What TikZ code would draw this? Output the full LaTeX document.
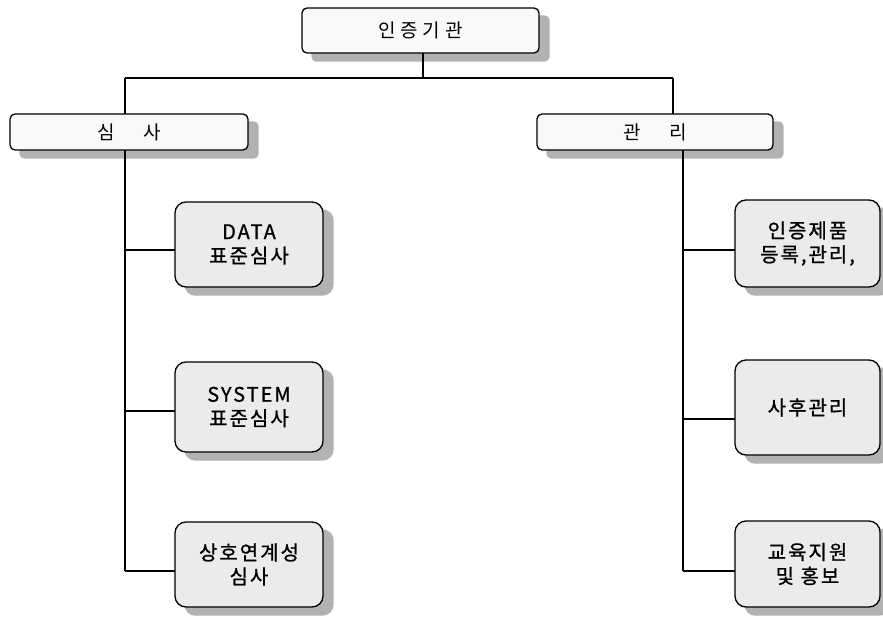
\documentclass[tikz,border=0pt]{standalone}
\usepackage{fontspec}
\setmainfont{Noto Sans CJK KR}
\newfontfamily\krt[LetterSpace=25]{Noto Sans CJK KR}
\newfontfamily\krc[LetterSpace=10,FakeBold=1]{Noto Sans CJK KR}
\usetikzlibrary{backgrounds}
\tikzset{
  conn/.style={line width=1.2pt, black},
  shadowfill/.style={fill=gray!60},
  topbox/.style={draw=black, line width=1.3pt, rounded corners=5pt, fill=gray!5, align=center, font=\krt\fontsize{19}{23}\selectfont},
  childbox/.style={draw=black, line width=1.3pt, rounded corners=11pt, fill=gray!16, align=center, font=\krc\fontsize{20}{24}\selectfont, minimum width=148pt},
}
\begin{document}
\begin{tikzpicture}[x=1pt,y=-1pt]
\useasboundingbox (0,0) rectangle (883,623);
% junction coordinates
\coordinate (j) at (423,78);
\coordinate (lt) at (125,78);
\coordinate (rt) at (673,78);
\coordinate (rb) at (683,150);
\coordinate (l1) at (125,250);
\coordinate (l2) at (125,411);
\coordinate (l3) at (125,571);
\coordinate (r1) at (683,250);
\coordinate (r2) at (683,419);
\coordinate (r3) at (683,571);
% connectors
\draw[conn] (423,53) -- (j);
\draw[conn] (lt) -- (rt);
\draw[conn] (lt) -- (l3);
\draw[conn] (rt) -- (673,114);
\draw[conn] (rb) -- (r3);
\draw[conn] (l1) -- (175,250);
\draw[conn] (l2) -- (175,411);
\draw[conn] (l3) -- (175,571);
\draw[conn] (r1) -- (735,250);
\draw[conn] (r2) -- (735,419);
\draw[conn] (r3) -- (735,571);
% boxes
\node[topbox, minimum width=237pt, minimum height=45pt] (top) at (420.5,30.5) {인증기관};
\node[topbox, minimum width=238pt, minimum height=36pt] (simsa) at (129,132) {심\hspace{1.5em}사};
\node[topbox, minimum width=236pt, minimum height=36pt] (gwanri) at (655,132) {관\hspace{1.5em}리};
\node[childbox, minimum height=85pt] (L1) at (249,244.5) {DATA\\표준심사};
\node[childbox, minimum height=90pt] (L2) at (249,407) {SYSTEM\\표준심사};
\node[childbox, minimum height=85pt] (L3) at (249,564.5) {상호연계성\\심사};
\node[childbox, minimum width=145pt, minimum height=87pt] (R1) at (807.5,243.5) {인증제품\\등록,관리,};
\node[childbox, minimum width=145pt, minimum height=95pt] (R2) at (807.5,407.5) {사후관리};
\node[childbox, minimum width=145pt, minimum height=86pt] (R3) at (807.5,564) {교육지원\\및 홍보};
% shadows
\begin{scope}[on background layer]
\foreach \n in {top,simsa,gwanri}
  \fill[shadowfill, rounded corners=5pt] ([shift={(10,8)}]\n.north west) rectangle ([shift={(10,8)}]\n.south east);
\foreach \n in {L1,L2,L3,R1,R2,R3}
  \fill[shadowfill, rounded corners=11pt] ([shift={(10,8)}]\n.north west) rectangle ([shift={(10,8)}]\n.south east);
\end{scope}
\end{tikzpicture}
\end{document}
